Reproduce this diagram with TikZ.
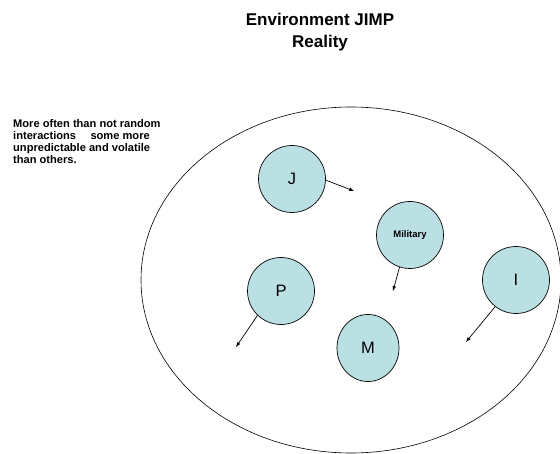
\documentclass[tikz,border=0pt]{standalone}
\usepackage{fontspec}
\setmainfont{Liberation Sans}
\usetikzlibrary{shapes.geometric}
\definecolor{actorfill}{RGB}{187,224,227}
\begin{document}
\begin{tikzpicture}[x=1pt,y=-1pt,
  actor/.style={circle,draw,line width=0.7pt,fill=actorfill,minimum size=67pt,inner sep=0pt,font=\fontsize{16.5}{18}\selectfont},
  push/.style={->,>=latex,line width=0.7pt,shorten >=0pt}]
\useasboundingbox (0,0) rectangle (560,454);

\node (env) [ellipse,draw,line width=0.6pt,minimum width=420pt,minimum height=346pt,inner sep=0pt] at (351,280) {};

\node (title) [align=center,font=\bfseries\fontsize{17}{22}\selectfont] at (320,32) {Environment JIMP\\Reality};
\node (note) [anchor=north west,align=left,inner sep=0pt,font=\bfseries\fontsize{11.1}{12.2}\selectfont] at (13,119)
  {More often than not random\\interactions\hspace{1.3em}some more\\unpredictable and volatile\\than others.};

\node[actor] (j) at (292,179) {J};
\node[actor,font=\bfseries\fontsize{9.5}{11}\selectfont] (mil) at (410,235) {Military};
\node[actor] (p) at (281,291) {P};
\node[actor,minimum width=62pt,minimum height=67pt,ellipse] (m) at (368,348) {M};
\node[actor] (i) at (516,280) {I};

\coordinate (jend) at (354,191);
\coordinate (milend) at (393,291);
\coordinate (pend) at (236,347);
\coordinate (iend) at (466,342);

\draw[push] (j.-2) -- (jend);
\draw[push] (mil.-108) -- (milend);
\draw[push] (p.-134) -- (pend);
\draw[push] (i.-128) -- (iend);
\end{tikzpicture}
\end{document}
